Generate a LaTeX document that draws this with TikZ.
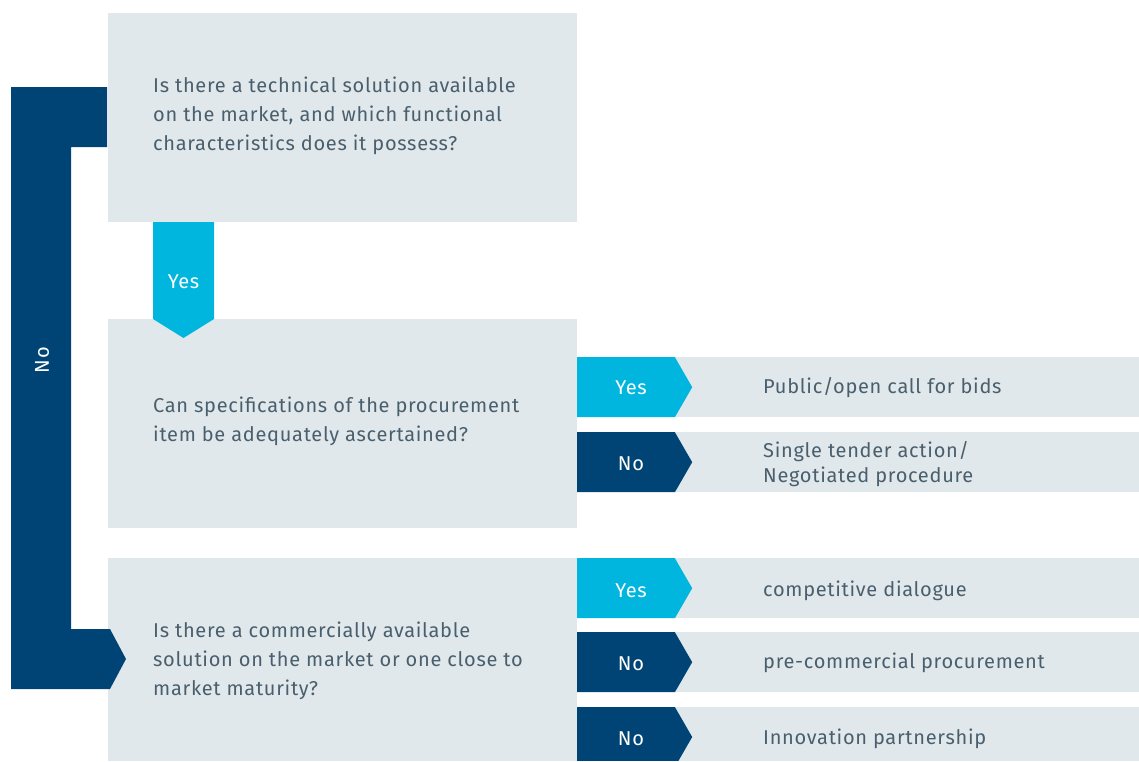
\documentclass[tikz,border=0pt]{standalone}
\usepackage{fontspec}
\setmainfont[LetterSpace=3.5]{Fira Sans}
\usetikzlibrary{shapes.symbols}
\definecolor{boxgray}{HTML}{E1E8EC}
\definecolor{darkblue}{HTML}{004475}
\definecolor{cyanblue}{HTML}{00B6DE}
\definecolor{txt}{HTML}{4A5F6D}
\begin{document}
\begin{tikzpicture}[x=1pt,y=-1pt,
  box/.style={fill=boxgray,draw=none,inner sep=0,anchor=north west},
  qtext/.style={text=txt,font=\fontsize{20}{29}\selectfont,align=left,anchor=west,inner sep=0},
  rtext/.style={text=txt,font=\fontsize{20}{25}\selectfont,align=left,anchor=west,inner sep=0},
  tag/.style={signal,signal to=east,signal pointer angle=120,minimum width=115pt,minimum height=60pt,inner sep=0,anchor=west,text=white},
  yestag/.style={tag,fill=cyanblue},
  notag/.style={tag,fill=darkblue},
  tagtext/.style={text=white,font=\fontsize{20}{23}\selectfont,inner sep=0}]
\useasboundingbox (0,0) rectangle (1139,761);
% question boxes
\node[box,minimum width=469pt,minimum height=209pt] (q1) at (108,13) {};
\node[box,minimum width=469pt,minimum height=209pt] (q2) at (108,319) {};
\node[box,minimum width=469pt,minimum height=203pt] (q3) at (108,558) {};
% result rows
\node[box,minimum width=562pt,minimum height=60pt] (r1) at (577,357) {};
\node[box,minimum width=562pt,minimum height=60pt] (r2) at (577,432) {};
\node[box,minimum width=562pt,minimum height=60pt] (r3) at (577,558) {};
\node[box,minimum width=562pt,minimum height=60pt] (r4) at (577,632) {};
\node[box,minimum width=562pt,minimum height=54pt] (r5) at (577,707) {};
% question texts
\node[qtext] (t1) at (153,116) {Is there a technical solution available\\on the market, and which functional\\characteristics does it possess?};
\node[qtext] (t2) at (153,421.5) {Can specifications of the procurement\\item be adequately ascertained?};
\node[qtext] (t3) at (153,661) {Is there a commercially available\\solution on the market or one close to\\market maturity?};
% result texts
\node[rtext] (a1) at (763,388) {Public/open call for bids};
\node[rtext] (a2) at (763,464) {Single tender action/\\Negotiated procedure};
\node[rtext] (a3) at (763,591) {competitive dialogue};
\node[rtext] (a4) at (763,663) {pre-commercial procurement};
\node[rtext] (a5) at (763,739) {Innovation partnership};
% tags
\node[yestag] (y1) at (r1.west) {};
\node[notag] (n1) at (r2.west) {};
\node[yestag] (y2) at (r3.west) {};
\node[notag] (n2) at (r4.west) {};
\node[notag,minimum height=60pt] (n3) at (577,737) {};
\node[tagtext] (ly1) at (631,388) {Yes};
\node[tagtext] (ln1) at (631,464) {No};
\node[tagtext] (ly2) at (631,591) {Yes};
\node[tagtext] (ln2) at (631,664) {No};
\node[tagtext] (ln3) at (631,739) {No};
% Yes down arrow from q1 to q2
\fill[cyanblue] (153,222) -- (214,222) -- (214,319) -- (183.5,338) -- (153,319) -- cycle;
\node[tagtext] (ydown) at (183.5,282) {Yes};
% No bracket from q1 to q3
\fill[darkblue] (11,87) -- (107,87) -- (107,147) -- (71,147) -- (71,629) -- (110,629) -- (126,659) -- (110,689) -- (11,689) -- cycle;
\node[tagtext,rotate=90] (nleft) at (42,360) {No};
% clip bottom tag
\fill[white] (0,761) rectangle (1139,770);
\end{tikzpicture}
\end{document}
